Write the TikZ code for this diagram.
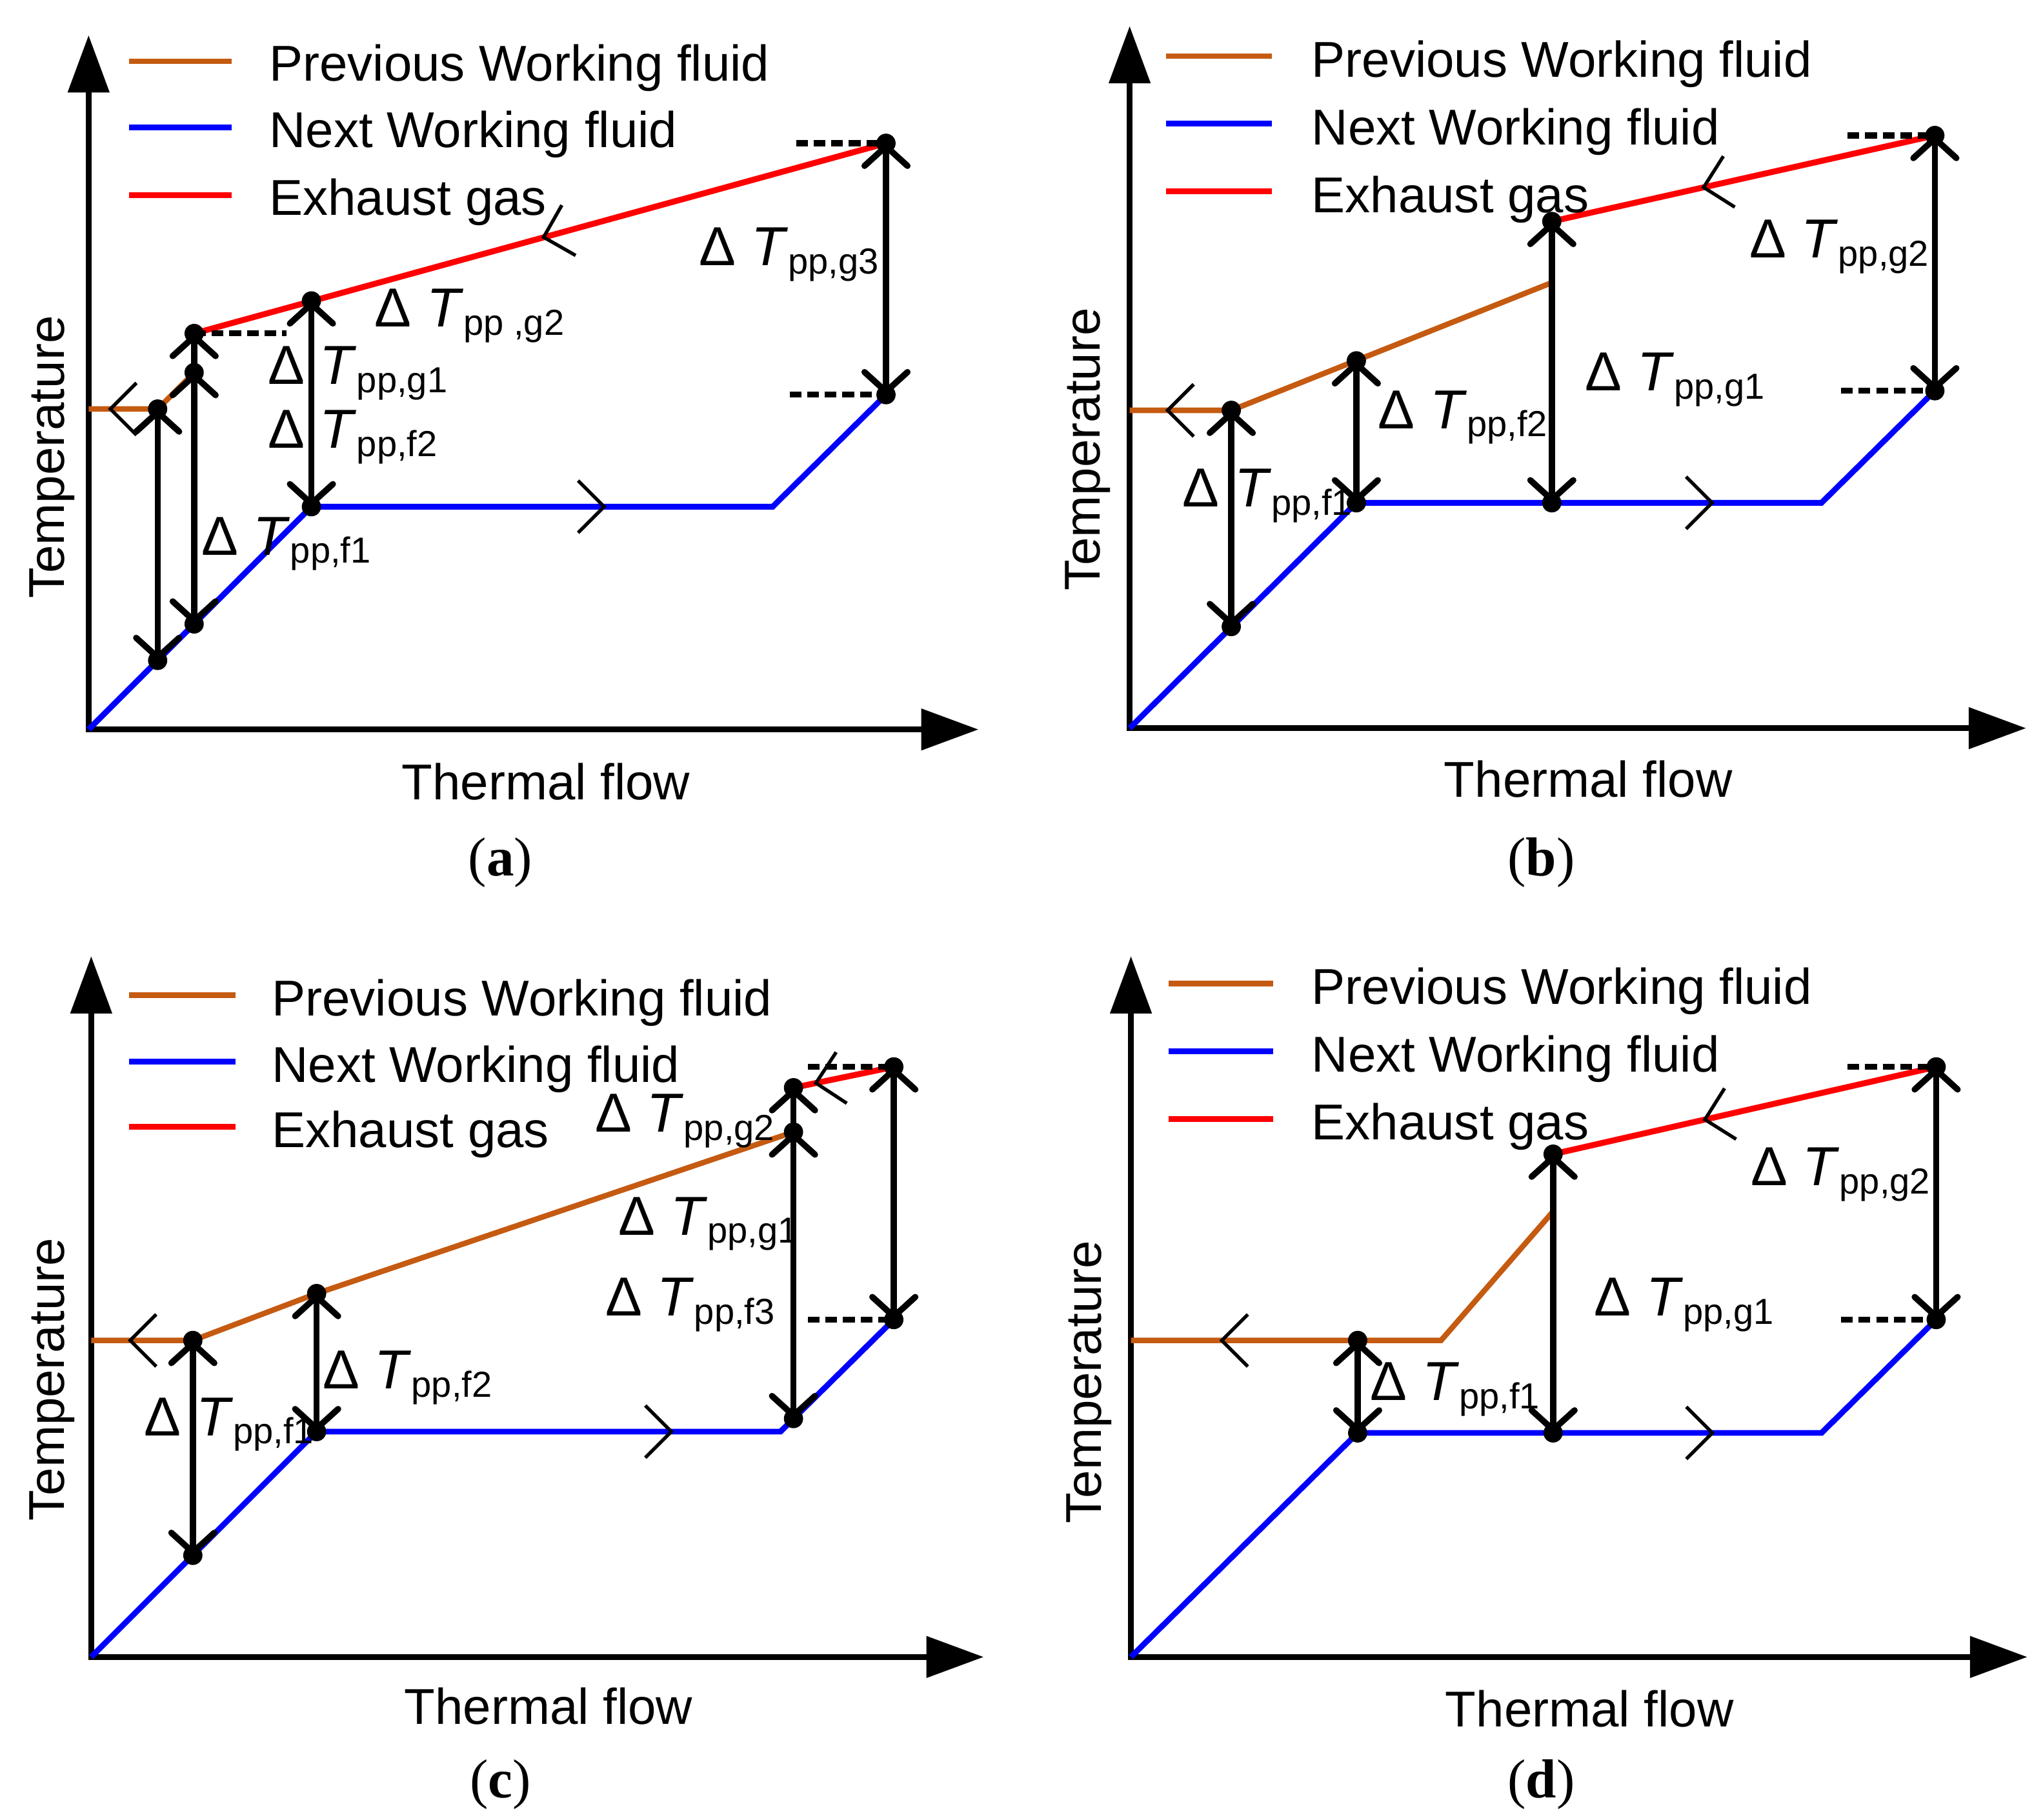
\documentclass[tikz,border=0pt]{standalone}
\usepackage{fontspec}
\setmainfont{Liberation Sans}
\newfontfamily\capfont{Liberation Serif}
\usepackage{tikz}
\usetikzlibrary{arrows.meta, decorations.markings}
\definecolor{prevbrown}{RGB}{197,90,17}
\tikzset{
    axes/.style={
        draw=black,
        line width=1.35pt,
        {Triangle[length=4.4mm,width=3.1mm]}-{Triangle[length=4.4mm,width=3.1mm]}
    },
    nextfluid/.style={
        draw=blue,
        line width=1.25pt
    },
    prevfluid/.style={
        draw=prevbrown,
        line width=1.2pt
    },
    exhaust/.style={
        draw=red,
        line width=1.3pt
    },
    flow/.style={
        decorate,
        decoration={markings, mark=at position #1 with {\arrow{Straight Barb[length=2mm,width=4mm,line width=0.75pt]}}}
    },
    ppgap/.style={
        draw=black,
        line width=1.35pt,
        >={Straight Barb[length=1.5mm,width=3.3mm,round]},
        <->
    },
    ppup/.style={
        draw=black,
        line width=1.35pt,
        >={Straight Barb[length=1.5mm,width=3.3mm,round]},
        ->
    },
    level/.style={
        draw=black,
        line width=1.3pt,
        dash pattern=on 0.9mm off 0.45mm
    },
    legendtext/.style={
        anchor=base west,
        inner sep=0pt,
        font=\fontsize{11}{13}\selectfont
    },
    pplabel/.style={
        anchor=base west,
        inner sep=0pt,
        font=\fontsize{12}{14}\selectfont
    },
    axislabel/.style={
        inner sep=0pt,
        font=\fontsize{11}{13}\selectfont
    },
    subcap/.style={
        inner sep=0pt,
        font=\capfont\fontsize{12}{14}\selectfont
    }
}
\newcommand{\dT}[1]{Δ\ \textit{T}\raisebox{-0.63mm}{\fontsize{7.9}{10}\selectfont #1}}

\begin{document}
\begin{tikzpicture}[x=0.1mm, y=-0.1mm]
\useasboundingbox (0,0) rectangle (1568,1397);

% ---------------- (a) ----------------
\coordinate (a_org) at (68,560);
\coordinate (a_ytip) at (68,27);
\coordinate (a_xtip) at (751,560);
\coordinate (a_n1) at (239,389);
\coordinate (a_n2) at (593,389);
\coordinate (a_n3) at (680,303);
\coordinate (a_nd1) at (121,507);
\coordinate (a_nd2) at (149,479);
\coordinate (a_p0) at (68,314);
\coordinate (a_p1) at (121,314);
\coordinate (a_p2) at (149,286);
\coordinate (a_g0) at (149,256);
\coordinate (a_g1) at (239,231);
\coordinate (a_g2) at (680,110);
\coordinate (a_d1) at (220,256);
\coordinate (a_d2) at (611,110);
\coordinate (a_d3) at (606,303);

% Axes
\draw[axes] (a_ytip) -- (a_org) -- (a_xtip);

% Fluid lines
\draw[nextfluid] (a_org) -- (a_n1) -- (a_n2) -- (a_n3);
\draw[prevfluid] (a_p2) -- (a_p1) -- (a_p0);
\draw[exhaust] (a_g2) -- (a_g0);
\path[blue, flow=0.64] (a_n1) -- (a_n2);
\path[prevbrown, flow=0.72] (a_p1) -- (a_p0);
\path[red, flow=0.60] (a_g2) -- (a_g1);

% Pinch points
\draw[level] (a_g0) -- (a_d1);
\draw[level] (a_d2) -- (a_g2);
\draw[level] (a_d3) -- (a_n3);
\draw[ppgap] (a_p1) -- (a_nd1);
\draw[ppgap] (a_p2) -- (a_nd2);
\draw[ppup] (a_p2) -- (a_g0);
\draw[ppgap] (a_g1) -- (a_n1);
\draw[ppgap] (a_g2) -- (a_n3);
\foreach \pt in {a_p1,a_nd1,a_p2,a_nd2,a_g0,a_g1,a_n1,a_g2,a_n3}
    \fill (\pt) circle[radius=2.1pt];

\node[pplabel] (a_lg3) at (536,204) {\dT{pp,g3}};
\node[pplabel] (a_lg2) at (287,251) {\dT{pp ,g2}};
\node[pplabel] (a_lg1) at (205,295) {\dT{pp,g1}};
\node[pplabel] (a_lf2) at (205,344) {\dT{pp,f2}};
\node[pplabel] (a_lf1) at (154,426) {\dT{pp,f1}};

% Legend
\node[legendtext] (a_leg1) at (206,62) {Previous Working fluid};
\node[legendtext] (a_leg2) at (206,113) {Next Working fluid};
\node[legendtext] (a_leg3) at (206,165) {Exhaust gas};
\draw[prevfluid] ([shift={(-107,-15)}]a_leg1.base west) -- ++(79,0);
\draw[nextfluid] ([shift={(-107,-15)}]a_leg2.base west) -- ++(79,0);
\draw[exhaust] ([shift={(-107,-15)}]a_leg3.base west) -- ++(79,0);

\node[axislabel, rotate=90] (a_ylab) at (40,351) {Temperature};
\node[axislabel] (a_xlab) at (419,600) {Thermal flow};
\node[subcap] (a_cap) at (384,662) {(\textbf{a})};

% ---------------- (b) ----------------
\coordinate (b_org) at (867,559);
\coordinate (b_ytip) at (867,20);
\coordinate (b_xtip) at (1555,559);
\coordinate (b_n1) at (1041,386);
\coordinate (b_n2) at (1398,386);
\coordinate (b_n3) at (1485,300);
\coordinate (b_nd1) at (945,481);
\coordinate (b_nd2) at (1191,386);
\coordinate (b_p0) at (867,315);
\coordinate (b_p1) at (945,315);
\coordinate (b_p2) at (1041,277);
\coordinate (b_p3) at (1191,217);
\coordinate (b_g0) at (1191,170);
\coordinate (b_g1) at (1485,104);
\coordinate (b_d1) at (1418,104);
\coordinate (b_d2) at (1413,300);

% Axes
\draw[axes] (b_ytip) -- (b_org) -- (b_xtip);

% Fluid lines
\draw[nextfluid] (b_org) -- (b_n1) -- (b_n2) -- (b_n3);
\draw[prevfluid] (b_p3) -- (b_p1) -- (b_p0);
\draw[exhaust] (b_g1) -- (b_g0);
\path[blue, flow=0.77] (b_n1) -- (b_n2);
\path[prevbrown, flow=0.65] (b_p1) -- (b_p0);
\path[red, flow=0.61] (b_g1) -- (b_g0);

% Pinch points
\draw[level] (b_d1) -- (b_g1);
\draw[level] (b_d2) -- (b_n3);
\draw[ppgap] (b_p1) -- (b_nd1);
\draw[ppgap] (b_p2) -- (b_n1);
\draw[ppgap] (b_g0) -- (b_nd2);
\draw[ppgap] (b_g1) -- (b_n3);
\foreach \pt in {b_p1,b_nd1,b_p2,b_n1,b_g0,b_nd2,b_g1,b_n3}
    \fill (\pt) circle[radius=2.1pt];

\node[pplabel] (b_lg2) at (1342,198) {\dT{pp,g2}};
\node[pplabel] (b_lg1) at (1216,300) {\dT{pp,g1}};
\node[pplabel] (b_lf2) at (1057,329) {\dT{pp,f2}};
\node[pplabel] (b_lf1) at (907,389) {\dT{pp,f1}};

% Legend
\node[legendtext] (b_leg1) at (1006,59) {Previous Working fluid};
\node[legendtext] (b_leg2) at (1006,111) {Next Working fluid};
\node[legendtext] (b_leg3) at (1006,163) {Exhaust gas};
\draw[prevfluid] ([shift={(-111,-16)}]b_leg1.base west) -- ++(81,0);
\draw[nextfluid] ([shift={(-111,-16)}]b_leg2.base west) -- ++(81,0);
\draw[exhaust] ([shift={(-111,-16)}]b_leg3.base west) -- ++(81,0);

\node[axislabel, rotate=90] (b_ylab) at (835,345) {Temperature};
\node[axislabel] (b_xlab) at (1219,598) {Thermal flow};
\node[subcap] (b_cap) at (1183,662) {(\textbf{b})};

% ---------------- (c) ----------------
\coordinate (c_org) at (70,1272);
\coordinate (c_ytip) at (70,734);
\coordinate (c_xtip) at (755,1272);
\coordinate (c_n1) at (243,1099);
\coordinate (c_n2) at (599,1099);
\coordinate (c_n3) at (686,1013);
\coordinate (c_nd1) at (148,1194);
\coordinate (c_nd2) at (609,1089);
\coordinate (c_p0) at (70,1029);
\coordinate (c_p1) at (148,1029);
\coordinate (c_p2) at (243,993);
\coordinate (c_p3) at (609,869);
\coordinate (c_g0) at (609,835);
\coordinate (c_g1) at (686,819);
\coordinate (c_d1) at (620,819);
\coordinate (c_d2) at (620,1013);

% Axes
\draw[axes] (c_ytip) -- (c_org) -- (c_xtip);

% Fluid lines
\draw[nextfluid] (c_org) -- (c_n1) -- (c_n2) -- (c_n3);
\draw[prevfluid] (c_p3) -- (c_p2) -- (c_p1) -- (c_p0);
\draw[exhaust] (c_g1) -- (c_g0);
\path[blue, flow=0.77] (c_n1) -- (c_n2);
\path[prevbrown, flow=0.64] (c_p1) -- (c_p0);
\path[red, flow=0.80] (c_g1) -- (c_g0);

% Pinch points
\draw[level] (c_d1) -- (c_g1);
\draw[level] (c_d2) -- (c_n3);
\draw[ppgap] (c_p1) -- (c_nd1);
\draw[ppgap] (c_p2) -- (c_n1);
\draw[ppgap] (c_p3) -- (c_nd2);
\draw[ppup] (c_p3) -- (c_g0);
\draw[ppgap] (c_g1) -- (c_n3);
\foreach \pt in {c_p1,c_nd1,c_p2,c_n1,c_p3,c_nd2,c_g0,c_g1,c_n3}
    \fill (\pt) circle[radius=2.1pt];

\node[pplabel] (c_lf1) at (110,1102) {\dT{pp,f1}};
\node[pplabel] (c_lf2) at (247,1066) {\dT{pp,f2}};
\node[pplabel] (c_lg2) at (456,869) {\dT{pp,g2}};
\node[pplabel] (c_lg1) at (474,948) {\dT{pp,g1}};
\node[pplabel] (c_lf3) at (464,1010) {\dT{pp,f3}};

% Legend
\node[legendtext] (c_leg1) at (208,780) {Previous Working fluid};
\node[legendtext] (c_leg2) at (208,831) {Next Working fluid};
\node[legendtext] (c_leg3) at (208,881) {Exhaust gas};
\draw[prevfluid] ([shift={(-109,-16)}]c_leg1.base west) -- ++(82,0);
\draw[nextfluid] ([shift={(-109,-16)}]c_leg2.base west) -- ++(82,0);
\draw[exhaust] ([shift={(-109,-16)}]c_leg3.base west) -- ++(82,0);

\node[axislabel, rotate=90] (c_ylab) at (40,1059) {Temperature};
\node[axislabel] (c_xlab) at (421,1310) {Thermal flow};
\node[subcap] (c_cap) at (384,1370) {(\textbf{c})};

% ---------------- (d) ----------------
\coordinate (d_org) at (868,1272);
\coordinate (d_ytip) at (868,734);
\coordinate (d_xtip) at (1556,1272);
\coordinate (d_n1) at (1042,1100);
\coordinate (d_n2) at (1398,1100);
\coordinate (d_n3) at (1486,1013);
\coordinate (d_nd1) at (1192,1100);
\coordinate (d_p0) at (868,1029);
\coordinate (d_p1) at (1042,1029);
\coordinate (d_p2) at (1106,1029);
\coordinate (d_p3) at (1192,930);
\coordinate (d_g0) at (1192,886);
\coordinate (d_g1) at (1486,819);
\coordinate (d_d1) at (1418,819);
\coordinate (d_d2) at (1413,1013);

% Axes
\draw[axes] (d_ytip) -- (d_org) -- (d_xtip);

% Fluid lines
\draw[nextfluid] (d_org) -- (d_n1) -- (d_n2) -- (d_n3);
\draw[prevfluid] (d_p3) -- (d_p2) -- (d_p0);
\draw[exhaust] (d_g1) -- (d_g0);
\path[blue, flow=0.77] (d_n1) -- (d_n2);
\path[prevbrown, flow=0.61] (d_p1) -- (d_p0);
\path[red, flow=0.61] (d_g1) -- (d_g0);

% Pinch points
\draw[level] (d_d1) -- (d_g1);
\draw[level] (d_d2) -- (d_n3);
\draw[ppgap] (d_p1) -- (d_n1);
\draw[ppgap] (d_g0) -- (d_nd1);
\draw[ppgap] (d_g1) -- (d_n3);
\foreach \pt in {d_p1,d_n1,d_g0,d_nd1,d_g1,d_n3}
    \fill (\pt) circle[radius=2.1pt];

\node[pplabel] (d_lf1) at (1051,1075) {\dT{pp,f1}};
\node[pplabel] (d_lg1) at (1223,1010) {\dT{pp,g1}};
\node[pplabel] (d_lg2) at (1343,910) {\dT{pp,g2}};

% Legend
\node[legendtext] (d_leg1) at (1006,771) {Previous Working fluid};
\node[legendtext] (d_leg2) at (1006,823) {Next Working fluid};
\node[legendtext] (d_leg3) at (1006,875) {Exhaust gas};
\draw[prevfluid] ([shift={(-109,-16)}]d_leg1.base west) -- ++(80,0);
\draw[nextfluid] ([shift={(-109,-16)}]d_leg2.base west) -- ++(80,0);
\draw[exhaust] ([shift={(-109,-16)}]d_leg3.base west) -- ++(80,0);

\node[axislabel, rotate=90] (d_ylab) at (836,1061) {Temperature};
\node[axislabel] (d_xlab) at (1220,1312) {Thermal flow};
\node[subcap] (d_cap) at (1183,1370) {(\textbf{d})};

\end{tikzpicture}
\end{document}
